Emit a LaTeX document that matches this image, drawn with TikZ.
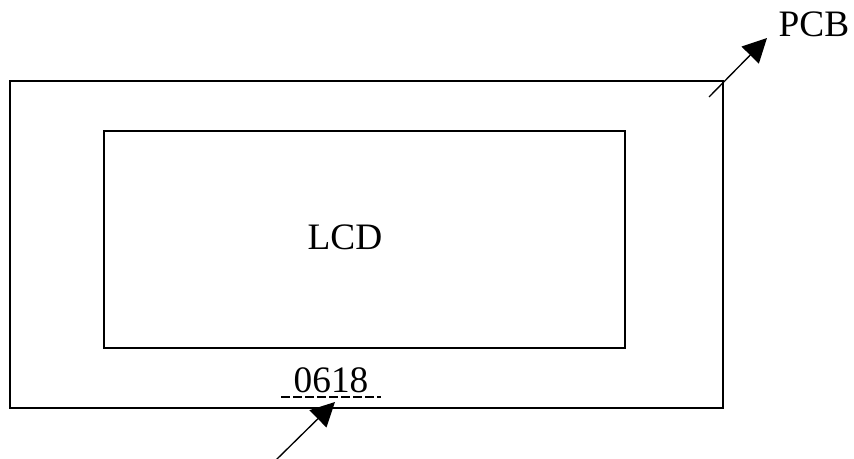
\documentclass[tikz,border=0pt]{standalone}
\usepackage{fontspec}
\setmainfont{Liberation Serif}
\usetikzlibrary{arrows.meta}
\begin{document}
\begin{tikzpicture}[x=0.75pt, y=-0.75pt, >={Triangle[length=18pt, width=18pt]}, line width=1pt, every node/.style={font=\fontsize{28}{33}\selectfont}]
        \useasboundingbox (0,0) rectangle (854,459);
        \node[draw, inner sep=0pt, outer sep=0pt, minimum width=534.75pt, minimum height=245.25pt] (pcb) at (366.5,244.5) {};
        \node[draw, inner sep=0pt, outer sep=0pt, minimum width=390.75pt, minimum height=162.75pt] (lcd) at (364.5,239.5) {};
        \node[anchor=base west, inner sep=0pt] (lcdtext) at (307,250) {LCD};
        \node[anchor=base west, inner sep=0pt] (pcbtext) at (778,37) {PCB};
        \node[anchor=base, inner xsep=9pt, inner ysep=0pt] (code) at (331,393) {0618};
        \coordinate (tail) at (276,460);

        \draw[dash pattern=on 7pt off 2pt] ([yshift=-3pt]code.base west) -- ([yshift=-3pt]code.base east);
        \draw[->] ([shift={(-14,16)}]pcb.north east) -- ([shift={(-11,1)}]pcbtext.base west);
        \draw[->] (tail) -- ([shift={(4,9)}]code.base);
    \end{tikzpicture}
\end{document}
